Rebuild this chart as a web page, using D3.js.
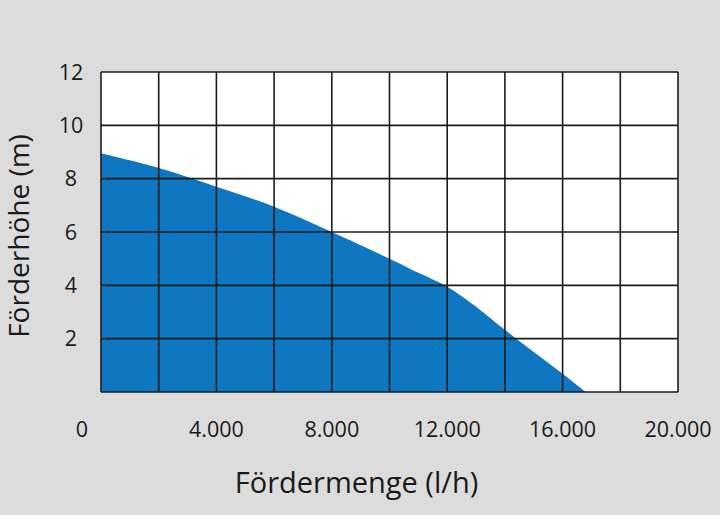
<!DOCTYPE html>
<html lang="de">
<head>
<meta charset="utf-8">
<style>
  body { margin: 0; background: #dcdcdc; }
  text { font-family: "Open Sans", sans-serif; fill: #1a1a1a; }
</style>
</head>
<body>
<script src="https://d3js.org/d3.v7.min.js"></script>
<script>
  // pump curve: flow (l/h) vs head (m)
  const flow = [0, 2000, 4000, 6000, 8000, 10000, 11000, 12000, 13000, 14000, 15000, 16000, 16800];
  const head = [8.95, 8.4, 7.7, 6.95, 6.0, 5.0, 4.47, 3.95, 3.2, 2.33, 1.5, 0.68, 0];
  const xTicks = [0, 4000, 8000, 12000, 16000, 20000];
  const yTicks = [2, 4, 6, 8, 10, 12];
  const xTitle = "Fördermenge (l/h)";
  const yTitle = "Förderhöhe (m)";

  const width = 720, height = 515;
  const mLeft = 101, mRight = 678, mTop = 72, mBottom = 392;

  const svg = d3.select("body").append("svg")
    .attr("width", width).attr("height", height);

  svg.append("rect").attr("width", width).attr("height", height).attr("fill", "#dcdcdc");

  const x = d3.scaleLinear().domain([0, 20000]).range([mLeft, mRight]);
  const y = d3.scaleLinear().domain([0, 12]).range([mBottom, mTop]);

  svg.append("rect")
    .attr("x", mLeft).attr("y", mTop)
    .attr("width", mRight - mLeft).attr("height", mBottom - mTop)
    .attr("fill", "#fff");

  const pts = flow.map((f, i) => [f, head[i]]);
  const area = d3.area()
    .x(d => x(d[0]))
    .y0(y(0))
    .y1(d => y(d[1]))
    .curve(d3.curveCatmullRom.alpha(0.5));

  svg.append("path").datum(pts)
    .attr("d", area)
    .attr("fill", "#0f77c1");

  // grid
  const g = svg.append("g").attr("stroke", "#1b1b1b").attr("stroke-width", 1.6);
  g.selectAll(".v").data(d3.range(0, 20001, 2000)).join("line")
    .attr("x1", d => x(d)).attr("x2", d => x(d))
    .attr("y1", mTop).attr("y2", mBottom);
  g.selectAll(".h").data(d3.range(0, 13, 2)).join("line")
    .attr("y1", d => y(d)).attr("y2", d => y(d))
    .attr("x1", mLeft).attr("x2", mRight);

  // tick labels
  const fmt = d => d3.format(",")(d).replace(/,/g, ".");
  svg.selectAll(".xl").data(xTicks).join("text")
    .attr("x", d => d === 0 ? x(d) - 19 : x(d))
    .attr("y", 437)
    .attr("text-anchor", "middle")
    .attr("font-size", 21.5)
    .text(fmt);

  svg.selectAll(".yl").data(yTicks).join("text")
    .attr("x", 71)
    .attr("y", d => y(d))
    .attr("dy", "0.36em")
    .attr("text-anchor", "middle")
    .attr("font-size", 21.5)
    .text(d => d);

  svg.append("text")
    .attr("x", (235 + 478) / 2).attr("y", 493)
    .attr("text-anchor", "middle")
    .attr("font-size", 29)
    .text(xTitle);

  svg.append("text")
    .attr("transform", "translate(29,236) rotate(-90)")
    .attr("text-anchor", "middle")
    .attr("font-size", 28)
    .text(yTitle);
</script>
</body>
</html>
